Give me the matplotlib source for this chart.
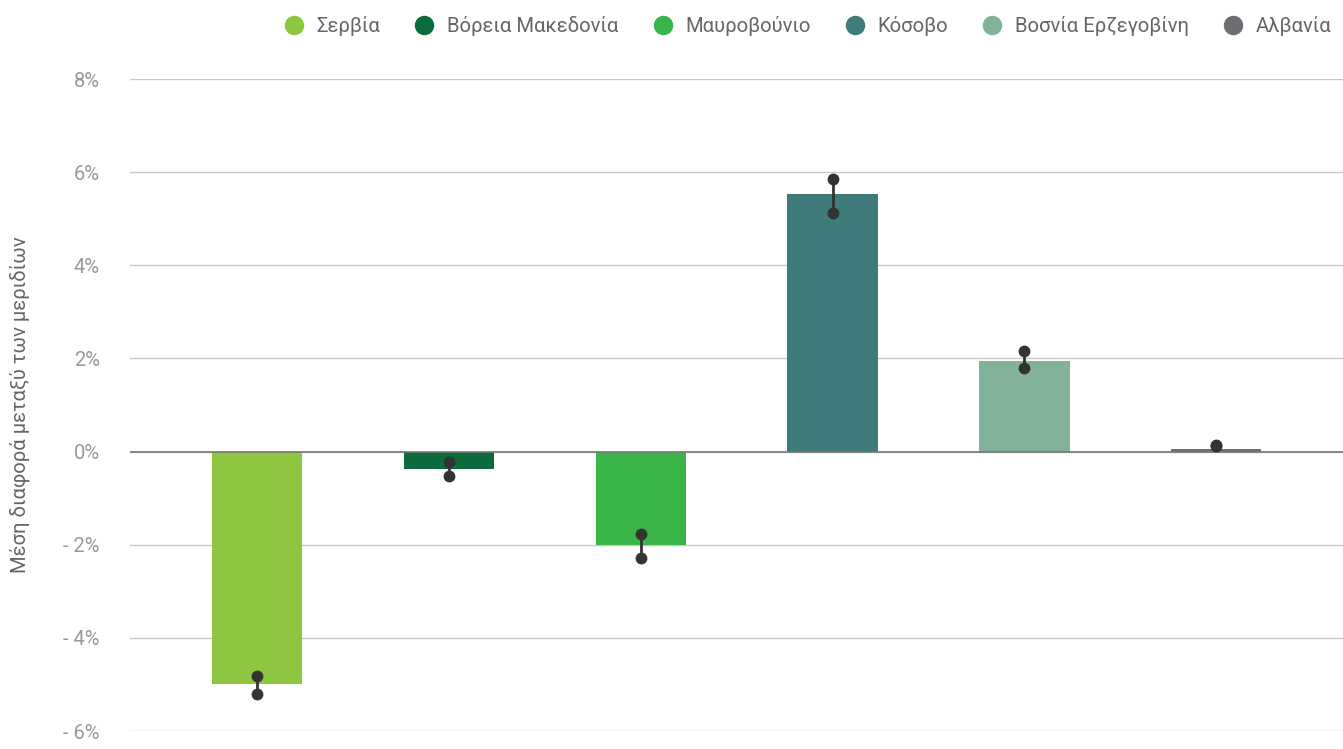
import matplotlib
matplotlib.use("Agg")
import matplotlib.pyplot as plt
from matplotlib.lines import Line2D

countries = ["Σερβία", "Βόρεια Μακεδονία", "Μαυροβούνιο", "Κόσοβο",
             "Βοσνία Ερζεγοβίνη", "Αλβανία"]
values = [-5.0, -0.37, -2.0, 5.53, 1.94, 0.06]
err_low = [-5.2, -0.52, -2.28, 5.13, 1.79, 0.12]
err_high = [-4.82, -0.23, -1.76, 5.85, 2.17, 0.14]
colors = ["#8dc63f", "#0b6b3a", "#39b54a", "#3e7b7a", "#82b39a", "#6d6e71"]
yticks = [-6, -4, -2, 0, 2, 4, 6, 8]

plt.rcParams['font.family'] = ['Roboto', 'DejaVu Sans']

fig = plt.figure(figsize=(13.43, 7.49), dpi=100)
ax = fig.add_axes([0.097, 0.024, 0.903, 0.8705])

x = list(range(len(countries)))
ax.bar(x, values, width=0.47, color=colors, zorder=2)

for xi, lo, hi in zip(x, err_low, err_high):
    ax.plot([xi, xi], [lo, hi], color="#333333", lw=2, marker="o",
            markersize=7.5, zorder=3)

ax.set_ylim(-6, 8)
ax.set_xlim(-0.66, 5.66)
ax.set_yticks(yticks)
ax.set_yticklabels([("- %d%%" % -t) if t < 0 else "%d%%" % t for t in yticks])
ax.set_xticks([])
ax.tick_params(axis="y", length=0, pad=22, labelsize=14.5, labelcolor="#999999")
for s in ax.spines.values():
    s.set_visible(False)
ax.grid(axis="y", color="#c8c8c8", lw=1, zorder=0)
ax.axhline(0, color="#777777", lw=1.2, zorder=2.5)

ax.set_ylabel("Μέση διαφορά μεταξύ των μεριδίων", fontsize=14.6, color="#666666")
ax.yaxis.set_label_coords(-0.083, 0.5)

handles = [Line2D([], [], ls="none", marker="o", markersize=13,
                  markerfacecolor=c, markeredgecolor=c) for c in colors]
fig.legend(handles, countries, loc="upper right", ncol=6, frameon=False,
           bbox_to_anchor=(1.005, 1.003), fontsize=14.6, handletextpad=0.1,
           columnspacing=1.2, labelcolor="#666666")

fig.savefig("out.png", dpi=100)
